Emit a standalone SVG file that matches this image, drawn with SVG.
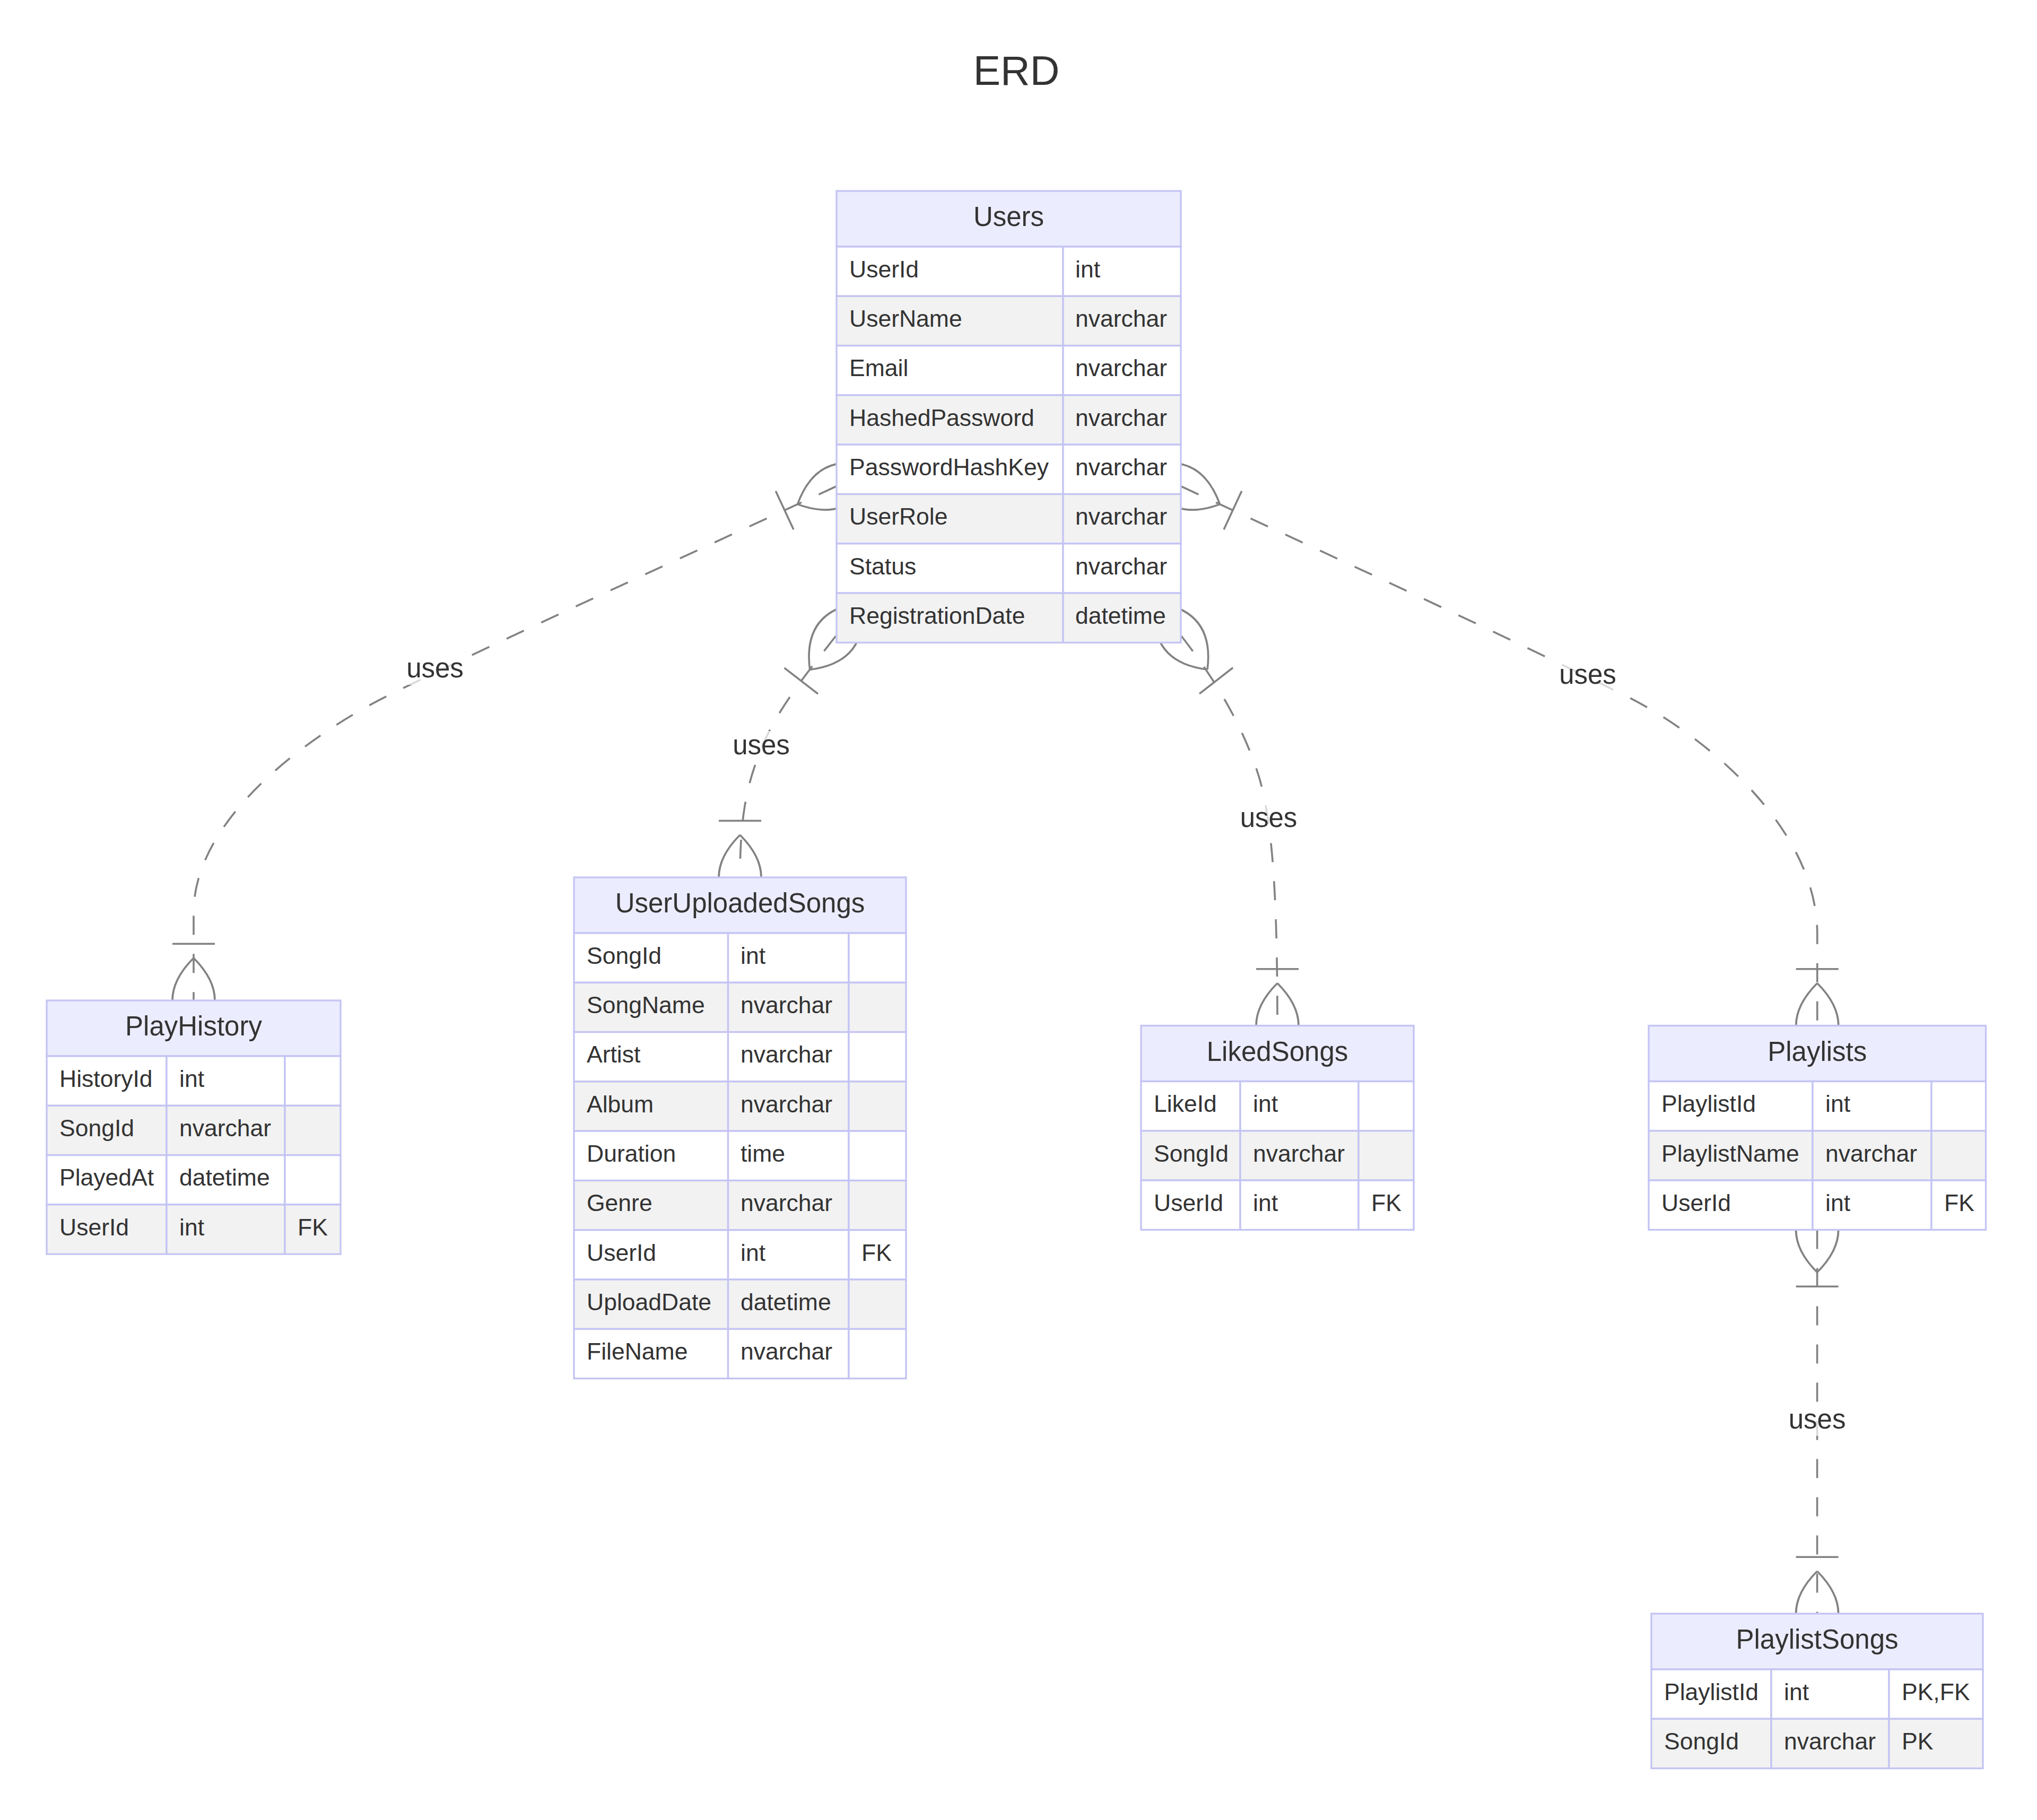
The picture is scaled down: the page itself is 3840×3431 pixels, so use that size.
<svg xmlns="http://www.w3.org/2000/svg" width="3840" height="3431" viewBox="0 0 3840 3431">
  <style>
    .hdr { fill: #ececff; stroke: #c4c4f4; stroke-width: 3.3; }
    .r0 { fill: #ffffff; stroke: #c4c4f4; stroke-width: 3.3; }
    .r1 { fill: #f2f2f2; stroke: #c4c4f4; stroke-width: 3.3; }
    .name { font-family: "Liberation Sans", Arial, sans-serif; font-size: 51px; fill: #333333; text-anchor: middle; }
    .attr { font-family: "Liberation Sans", Arial, sans-serif; font-size: 44.5px; fill: #333333; }
    .rel { fill: none; stroke: #828282; stroke-width: 3.6; stroke-dasharray: 36 36; marker-start: url(#oneOrMore); marker-end: url(#oneOrMore); }
    .lblbg { fill: #ffffff; opacity: 0.7; }
    .lbl { font-family: "Liberation Sans", Arial, sans-serif; font-size: 51px; fill: #333333; text-anchor: middle; }
    .title { font-family: "Liberation Sans", Arial, sans-serif; font-size: 77px; fill: #333333; text-anchor: middle; }
  </style>
  <defs>
    <!-- crow's foot with bar: lens centred on the entity edge, bar outside -->
    <marker id="oneOrMore" markerUnits="userSpaceOnUse" markerWidth="240" markerHeight="200" refX="0" refY="0" orient="auto-start-reverse" overflow="visible">
      <path d="M-80,0 Q0,-80 80,0 Q0,80 -80,0 M-106.8,-40 L-106.8,40" fill="none" stroke="#828282" stroke-width="3.6"/>
    </marker>
  </defs>

  <rect width="3840" height="3431" fill="#ffffff"/>

  <text class="title" x="1916" y="160">ERD</text>

  <g id="connectors">
    <path id="rel-users-playhistory" class="rel" d="M1576,917 C1300,1045 1000,1180 740,1307 C590,1380 365,1540 365,1720 L365,1886"/>
    <path id="rel-users-uploaded" class="rel" d="M1575.5,1199 C1530,1258 1470,1330 1440,1400 C1410,1470 1395,1530 1395,1654"/>
    <path id="rel-users-liked" class="rel" d="M2227,1199 C2290,1280 2345,1370 2375,1470 C2400,1560 2408,1700 2408,1933.5"/>
    <path id="rel-users-playlists" class="rel" d="M2227,917 C2503,1045 2803,1182 3063,1311 C3213,1385 3425.75,1560 3425.75,1760 L3425.75,1933.5"/>
    <path id="rel-playlists-songs" class="rel" d="M3425.6,2318.4 L3425.6,3042"/>
  </g>

  <g id="labels">
    <rect class="lblbg" x="764" y="1233" width="112" height="58"/>
    <text class="lbl" x="820" y="1277">uses</text>
    <rect class="lblbg" x="1379" y="1378" width="112" height="58"/>
    <text class="lbl" x="1435" y="1422">uses</text>
    <rect class="lblbg" x="2335.5" y="1515" width="112" height="58"/>
    <text class="lbl" x="2391.5" y="1559">uses</text>
    <rect class="lblbg" x="2937" y="1245" width="112" height="58"/>
    <text class="lbl" x="2993" y="1289">uses</text>
    <rect class="lblbg" x="3369.6" y="2649" width="112" height="58"/>
    <text class="lbl" x="3425.6" y="2693">uses</text>
  </g>

  <g id="Users">
    <rect class="hdr" x="1577" y="360" width="649" height="105"/>
    <text class="name" x="1901.5" y="426">Users</text>
    <rect class="r0" x="1577" y="465" width="427" height="93.3"/><rect class="r0" x="2004" y="465" width="222" height="93.3"/>
    <rect class="r1" x="1577" y="558.3" width="427" height="93.3"/><rect class="r1" x="2004" y="558.3" width="222" height="93.3"/>
    <rect class="r0" x="1577" y="651.6" width="427" height="93.3"/><rect class="r0" x="2004" y="651.6" width="222" height="93.3"/>
    <rect class="r1" x="1577" y="744.9" width="427" height="93.3"/><rect class="r1" x="2004" y="744.9" width="222" height="93.3"/>
    <rect class="r0" x="1577" y="838.2" width="427" height="93.3"/><rect class="r0" x="2004" y="838.2" width="222" height="93.3"/>
    <rect class="r1" x="1577" y="931.5" width="427" height="93.3"/><rect class="r1" x="2004" y="931.5" width="222" height="93.3"/>
    <rect class="r0" x="1577" y="1024.8" width="427" height="93.3"/><rect class="r0" x="2004" y="1024.8" width="222" height="93.3"/>
    <rect class="r1" x="1577" y="1118.1" width="427" height="93.3"/><rect class="r1" x="2004" y="1118.1" width="222" height="93.3"/>
    <text class="attr" x="1601" y="522.7">UserId</text><text class="attr" x="2027" y="522.7">int</text>
    <text class="attr" x="1601" y="616">UserName</text><text class="attr" x="2027" y="616">nvarchar</text>
    <text class="attr" x="1601" y="709.3">Email</text><text class="attr" x="2027" y="709.3">nvarchar</text>
    <text class="attr" x="1601" y="802.6">HashedPassword</text><text class="attr" x="2027" y="802.6">nvarchar</text>
    <text class="attr" x="1601" y="895.9">PasswordHashKey</text><text class="attr" x="2027" y="895.9">nvarchar</text>
    <text class="attr" x="1601" y="989.2">UserRole</text><text class="attr" x="2027" y="989.2">nvarchar</text>
    <text class="attr" x="1601" y="1082.5">Status</text><text class="attr" x="2027" y="1082.5">nvarchar</text>
    <text class="attr" x="1601" y="1175.8">RegistrationDate</text><text class="attr" x="2027" y="1175.8">datetime</text>
  </g>

  <g id="PlayHistory">
    <rect class="hdr" x="88" y="1886" width="554" height="105"/>
    <text class="name" x="365" y="1952">PlayHistory</text>
    <rect class="r0" x="88" y="1991" width="226" height="93.3"/><rect class="r0" x="314" y="1991" width="223" height="93.3"/><rect class="r0" x="537" y="1991" width="105" height="93.3"/>
    <rect class="r1" x="88" y="2084.3" width="226" height="93.3"/><rect class="r1" x="314" y="2084.3" width="223" height="93.3"/><rect class="r1" x="537" y="2084.3" width="105" height="93.3"/>
    <rect class="r0" x="88" y="2177.6" width="226" height="93.3"/><rect class="r0" x="314" y="2177.6" width="223" height="93.3"/><rect class="r0" x="537" y="2177.6" width="105" height="93.3"/>
    <rect class="r1" x="88" y="2270.9" width="226" height="93.3"/><rect class="r1" x="314" y="2270.9" width="223" height="93.3"/><rect class="r1" x="537" y="2270.9" width="105" height="93.3"/>
    <text class="attr" x="112" y="2048.7">HistoryId</text><text class="attr" x="338" y="2048.7">int</text>
    <text class="attr" x="112" y="2142">SongId</text><text class="attr" x="338" y="2142">nvarchar</text>
    <text class="attr" x="112" y="2235.3">PlayedAt</text><text class="attr" x="338" y="2235.3">datetime</text>
    <text class="attr" x="112" y="2328.6">UserId</text><text class="attr" x="338" y="2328.6">int</text><text class="attr" x="561" y="2328.6">FK</text>
  </g>

  <g id="UserUploadedSongs">
    <rect class="hdr" x="1082" y="1654" width="626" height="105"/>
    <text class="name" x="1395" y="1720">UserUploadedSongs</text>
    <rect class="r0" x="1082" y="1759" width="290.5" height="93.3"/><rect class="r0" x="1372.5" y="1759" width="227.5" height="93.3"/><rect class="r0" x="1600" y="1759" width="108" height="93.3"/>
    <rect class="r1" x="1082" y="1852.3" width="290.5" height="93.3"/><rect class="r1" x="1372.5" y="1852.3" width="227.5" height="93.3"/><rect class="r1" x="1600" y="1852.3" width="108" height="93.3"/>
    <rect class="r0" x="1082" y="1945.6" width="290.5" height="93.3"/><rect class="r0" x="1372.5" y="1945.6" width="227.5" height="93.3"/><rect class="r0" x="1600" y="1945.6" width="108" height="93.3"/>
    <rect class="r1" x="1082" y="2038.9" width="290.5" height="93.3"/><rect class="r1" x="1372.5" y="2038.9" width="227.5" height="93.3"/><rect class="r1" x="1600" y="2038.9" width="108" height="93.3"/>
    <rect class="r0" x="1082" y="2132.2" width="290.5" height="93.3"/><rect class="r0" x="1372.5" y="2132.2" width="227.5" height="93.3"/><rect class="r0" x="1600" y="2132.2" width="108" height="93.3"/>
    <rect class="r1" x="1082" y="2225.5" width="290.5" height="93.3"/><rect class="r1" x="1372.5" y="2225.5" width="227.5" height="93.3"/><rect class="r1" x="1600" y="2225.5" width="108" height="93.3"/>
    <rect class="r0" x="1082" y="2318.8" width="290.5" height="93.3"/><rect class="r0" x="1372.5" y="2318.8" width="227.5" height="93.3"/><rect class="r0" x="1600" y="2318.8" width="108" height="93.3"/>
    <rect class="r1" x="1082" y="2412.1" width="290.5" height="93.3"/><rect class="r1" x="1372.5" y="2412.1" width="227.5" height="93.3"/><rect class="r1" x="1600" y="2412.1" width="108" height="93.3"/>
    <rect class="r0" x="1082" y="2505.4" width="290.5" height="93.3"/><rect class="r0" x="1372.5" y="2505.4" width="227.5" height="93.3"/><rect class="r0" x="1600" y="2505.4" width="108" height="93.3"/>
    <text class="attr" x="1106" y="1816.7">SongId</text><text class="attr" x="1396" y="1816.7">int</text>
    <text class="attr" x="1106" y="1910">SongName</text><text class="attr" x="1396" y="1910">nvarchar</text>
    <text class="attr" x="1106" y="2003.3">Artist</text><text class="attr" x="1396" y="2003.3">nvarchar</text>
    <text class="attr" x="1106" y="2096.6">Album</text><text class="attr" x="1396" y="2096.6">nvarchar</text>
    <text class="attr" x="1106" y="2189.9">Duration</text><text class="attr" x="1396" y="2189.9">time</text>
    <text class="attr" x="1106" y="2283.2">Genre</text><text class="attr" x="1396" y="2283.2">nvarchar</text>
    <text class="attr" x="1106" y="2376.5">UserId</text><text class="attr" x="1396" y="2376.5">int</text><text class="attr" x="1624" y="2376.5">FK</text>
    <text class="attr" x="1106" y="2469.8">UploadDate</text><text class="attr" x="1396" y="2469.8">datetime</text>
    <text class="attr" x="1106" y="2563.1">FileName</text><text class="attr" x="1396" y="2563.1">nvarchar</text>
  </g>

  <g id="LikedSongs">
    <rect class="hdr" x="2151" y="1933.5" width="514" height="105"/>
    <text class="name" x="2408" y="1999.5">LikedSongs</text>
    <rect class="r0" x="2151" y="2038.5" width="187" height="93.3"/><rect class="r0" x="2338" y="2038.5" width="223" height="93.3"/><rect class="r0" x="2561" y="2038.5" width="104" height="93.3"/>
    <rect class="r1" x="2151" y="2131.8" width="187" height="93.3"/><rect class="r1" x="2338" y="2131.8" width="223" height="93.3"/><rect class="r1" x="2561" y="2131.8" width="104" height="93.3"/>
    <rect class="r0" x="2151" y="2225.1" width="187" height="93.3"/><rect class="r0" x="2338" y="2225.1" width="223" height="93.3"/><rect class="r0" x="2561" y="2225.1" width="104" height="93.3"/>
    <text class="attr" x="2175" y="2096.2">LikeId</text><text class="attr" x="2362" y="2096.2">int</text>
    <text class="attr" x="2175" y="2189.5">SongId</text><text class="attr" x="2362" y="2189.5">nvarchar</text>
    <text class="attr" x="2175" y="2282.8">UserId</text><text class="attr" x="2362" y="2282.8">int</text><text class="attr" x="2585" y="2282.8">FK</text>
  </g>

  <g id="Playlists">
    <rect class="hdr" x="3108" y="1933.5" width="635.5" height="105"/>
    <text class="name" x="3425.75" y="1999.5">Playlists</text>
    <rect class="r0" x="3108" y="2038.5" width="309" height="93.3"/><rect class="r0" x="3417" y="2038.5" width="224" height="93.3"/><rect class="r0" x="3641" y="2038.5" width="102.5" height="93.3"/>
    <rect class="r1" x="3108" y="2131.8" width="309" height="93.3"/><rect class="r1" x="3417" y="2131.8" width="224" height="93.3"/><rect class="r1" x="3641" y="2131.8" width="102.5" height="93.3"/>
    <rect class="r0" x="3108" y="2225.1" width="309" height="93.3"/><rect class="r0" x="3417" y="2225.1" width="224" height="93.3"/><rect class="r0" x="3641" y="2225.1" width="102.5" height="93.3"/>
    <text class="attr" x="3132" y="2096.2">PlaylistId</text><text class="attr" x="3441" y="2096.2">int</text>
    <text class="attr" x="3132" y="2189.5">PlaylistName</text><text class="attr" x="3441" y="2189.5">nvarchar</text>
    <text class="attr" x="3132" y="2282.8">UserId</text><text class="attr" x="3441" y="2282.8">int</text><text class="attr" x="3665" y="2282.8">FK</text>
  </g>

  <g id="PlaylistSongs">
    <rect class="hdr" x="3113" y="3042" width="625" height="105"/>
    <text class="name" x="3425.5" y="3108">PlaylistSongs</text>
    <rect class="r0" x="3113" y="3147" width="226" height="93.3"/><rect class="r0" x="3339" y="3147" width="222" height="93.3"/><rect class="r0" x="3561" y="3147" width="177" height="93.3"/>
    <rect class="r1" x="3113" y="3240.3" width="226" height="93.3"/><rect class="r1" x="3339" y="3240.3" width="222" height="93.3"/><rect class="r1" x="3561" y="3240.3" width="177" height="93.3"/>
    <text class="attr" x="3137" y="3204.7">PlaylistId</text><text class="attr" x="3363" y="3204.7">int</text><text class="attr" x="3585" y="3204.7">PK,FK</text>
    <text class="attr" x="3137" y="3298">SongId</text><text class="attr" x="3363" y="3298">nvarchar</text><text class="attr" x="3585" y="3298">PK</text>
  </g>
</svg>
